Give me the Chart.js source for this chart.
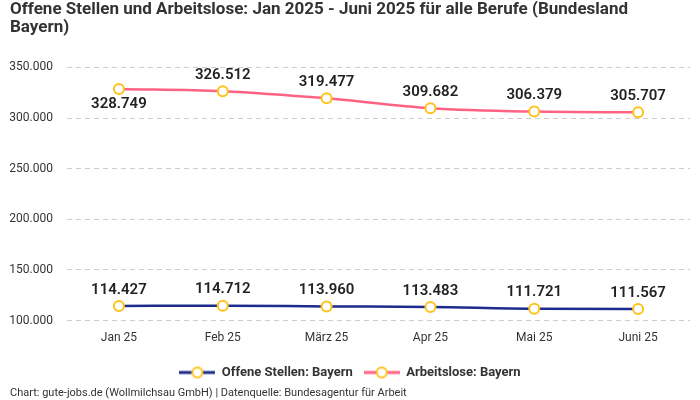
<!DOCTYPE html>
<html><head><meta charset="utf-8">
<script src="https://cdn.jsdelivr.net/npm/chart.js@4"></script>
<style>html,body{margin:0;padding:0;background:#fff}#wrap{width:700px;height:400px}</style>
</head><body><div id="wrap"><canvas id="c" width="700" height="400"></canvas></div>
<script>
const categories = ["Jan 25", "Feb 25", "März 25", "Apr 25", "Mai 25", "Juni 25"];
const offeneStellen = [114427, 114712, 113960, 113483, 111721, 111567];
const arbeitslose = [328749, 326512, 319477, 309682, 306379, 305707];
const seriesNames = ["Offene Stellen: Bayern", "Arbeitslose: Bayern"];
const titleLines = ["Offene Stellen und Arbeitslose: Jan 2025 - Juni 2025 für alle Berufe (Bundesland", "Bayern)"];
const footerText = "Chart: gute-jobs.de (Wollmilchsau GmbH) | Datenquelle: Bundesagentur für Arbeit";

const FONT = "Roboto, 'Noto Sans', sans-serif";
const BLUE = "#1c2b8c", PINK = "#ff6384", YELLOW = "#ffc21a";
const fmt = v => v.toLocaleString("de-DE");

function legendIcon(color){
  const c = document.createElement("canvas");
  c.width = 36; c.height = 14;
  const x = c.getContext("2d");
  x.strokeStyle = color; x.lineWidth = 3;
  x.beginPath(); x.moveTo(0,7); x.lineTo(36,7); x.stroke();
  x.beginPath(); x.arc(18,7,5,0,Math.PI*2);
  x.fillStyle = "#fff"; x.fill();
  x.strokeStyle = YELLOW; x.lineWidth = 2; x.stroke();
  return c;
}

const labelPlugin = {
  id: "valueLabels",
  afterDatasetsDraw(chart){
    const ctx = chart.ctx;
    ctx.save();
    ctx.font = "600 15px " + FONT;
    ctx.fillStyle = "#222";
    ctx.textAlign = "center";
    ctx.textBaseline = "middle";
    chart.data.datasets.forEach((ds, di) => {
      const meta = chart.getDatasetMeta(di);
      meta.data.forEach((pt, i) => {
        const below = (di === 1 && i === 0);
        ctx.fillText(fmt(ds.data[i]), pt.x, pt.y + (below ? 15 : -16));
      });
    });
    ctx.restore();
  },
  afterDraw(chart){
    const ctx = chart.ctx;
    ctx.save();
    ctx.font = "11px " + FONT;
    ctx.fillStyle = "#333";
    ctx.textAlign = "left";
    ctx.textBaseline = "middle";
    ctx.fillText(footerText, 10, 393);
    ctx.restore();
  }
};

new Chart(document.getElementById("c"), {
  type: "line",
  data: {
    labels: categories,
    datasets: [
      { label: seriesNames[0], data: offeneStellen, borderColor: BLUE, backgroundColor: BLUE,
        borderWidth: 2.5, cubicInterpolationMode: "monotone",
        pointRadius: 5, pointBorderWidth: 2, pointBorderColor: YELLOW, pointBackgroundColor: "#fff",
        pointStyle: "circle" },
      { label: seriesNames[1], data: arbeitslose, borderColor: PINK, backgroundColor: PINK,
        borderWidth: 2.5, cubicInterpolationMode: "monotone",
        pointRadius: 5, pointBorderWidth: 2, pointBorderColor: YELLOW, pointBackgroundColor: "#fff",
        pointStyle: "circle" }
    ]
  },
  options: {
    responsive: false,
    animation: false,
    devicePixelRatio: 1,
    layout: { padding: { left: 10, right: 10, top: 0, bottom: 11 } },
    scales: {
      x: {
        offset: true,
        grid: { display: false, drawTicks: false },
        border: { display: false },
        ticks: { color: "#333", font: { family: FONT, size: 12 }, padding: 10 }
      },
      y: {
        min: 100000, max: 350000,
        afterFit(s){ s.width = 57; },
        grid: { color: "#cccccc", lineWidth: 1, drawTicks: false },
        border: { display: false, dash: [5, 4] },
        ticks: { stepSize: 50000, color: "#333", font: { family: FONT, size: 12 }, padding: 14,
          callback: v => fmt(v) }
      }
    },
    plugins: {
      title: {
        display: true, text: titleLines, align: "start", color: "#333",
        font: { family: FONT, size: 17, weight: "bold", lineHeight: 1.1 },
        padding: { top: 0, bottom: 30 }
      },
      legend: {
        position: "bottom",
        labels: {
          usePointStyle: true, pointStyleWidth: 36, boxHeight: 14,
          color: "#333", font: { family: FONT, size: 13, weight: "bold" }, padding: 11,
          generateLabels(chart){
            return chart.data.datasets.map((ds, i) => ({
              text: ds.label, pointStyle: legendIcon(ds.borderColor),
              fillStyle: ds.borderColor, strokeStyle: ds.borderColor, lineWidth: 0,
              hidden: !chart.isDatasetVisible(i), datasetIndex: i, fontColor: "#333"
            }));
          }
        }
      },
      tooltip: { enabled: false }
    }
  },
  plugins: [labelPlugin]
});
</script>
</body></html>
